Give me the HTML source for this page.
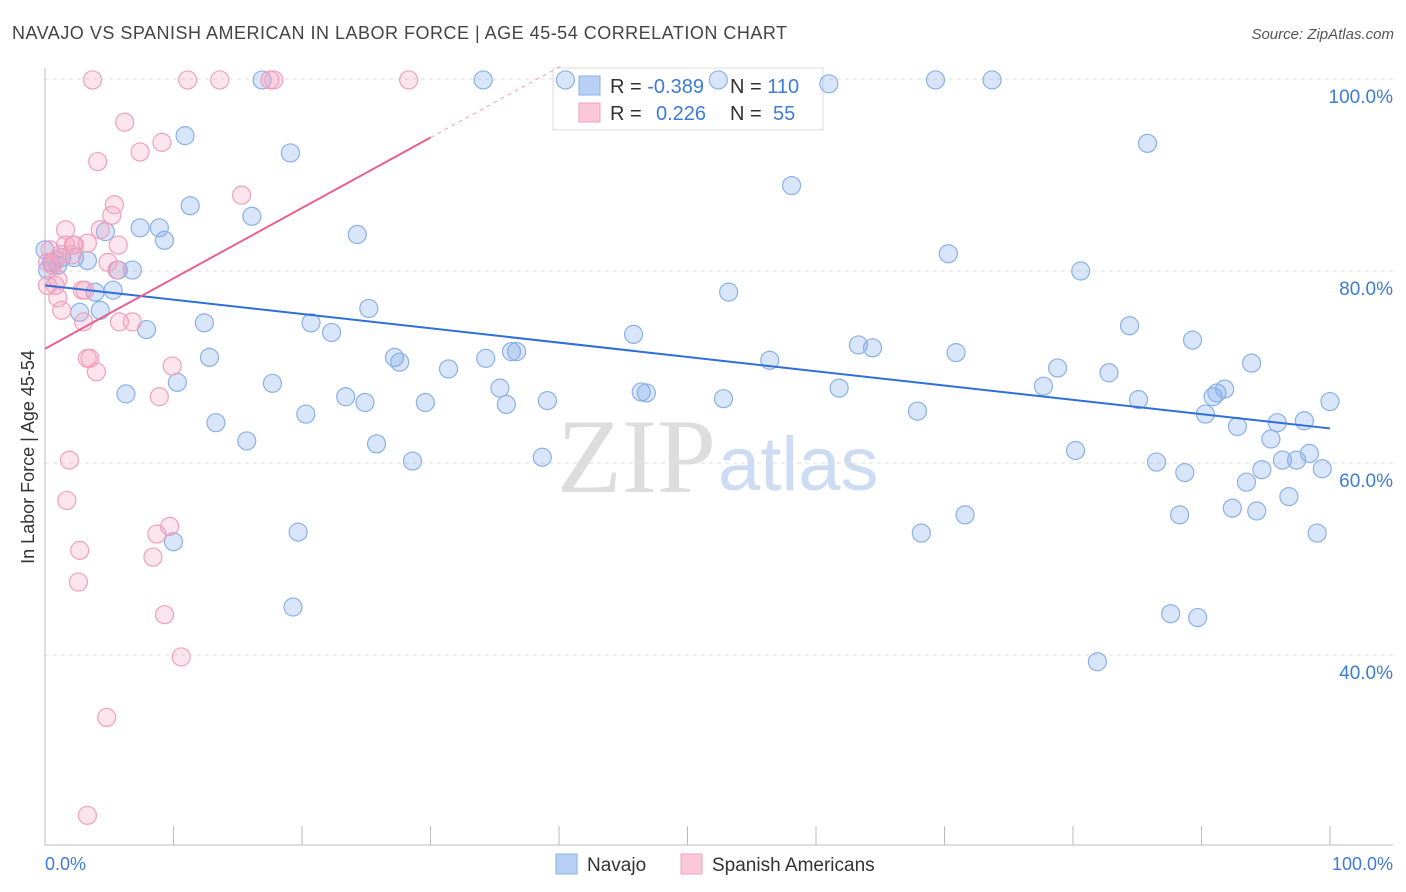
<!DOCTYPE html>
<html><head><meta charset="utf-8">
<style>
body{margin:0;background:#fff;font-family:"Liberation Sans",sans-serif;}
svg{display:block}
</style></head>
<body>
<svg id="chart" width="1406" height="892">
<text x="12" y="39" font-size="18" fill="#444" textLength="775">NAVAJO VS SPANISH AMERICAN IN LABOR FORCE | AGE 45-54 CORRELATION CHART</text>
<text x="1394" y="39" font-size="15" fill="#555" font-style="italic" text-anchor="end">Source: ZipAtlas.com</text>
<text x="716" y="492" font-size="106" fill="#ddd" text-anchor="end" font-family="Liberation Serif,serif">ZIP</text>
<text x="718" y="490" font-size="76" fill="#cddcf2">atlas</text>
<g id="grid"></g>
<g id="axes"></g>
<g>
<rect x="553" y="68" width="270" height="62" fill="#fff" stroke="#ddd"/>
<rect x="579" y="76" width="21" height="19" fill="#b8d0f4" stroke="#8ab0e8"/>
<rect x="579" y="103" width="21" height="19" fill="#fbc8d8" stroke="#f0a0bc"/>
<text x="610" y="93" font-size="20" fill="#333">R = <tspan fill="#3d7bd9">-0.389</tspan></text>
<text x="730" y="93" font-size="20" fill="#333">N = <tspan fill="#3d7bd9">110</tspan></text>
<text x="610" y="120" font-size="20" fill="#333">R = <tspan fill="#3d7bd9" x="656">0.226</tspan></text>
<text x="730" y="120" font-size="20" fill="#333">N = <tspan fill="#3d7bd9" x="773">55</tspan></text>
</g>
<g id="pts"></g>
<g id="trend"></g>
<text transform="translate(34,457) rotate(-90)" font-size="18" fill="#333" text-anchor="middle">In Labor Force | Age 45-54</text>
<g>
<rect x="556" y="854" width="21" height="20" fill="#b8d0f4" stroke="#8ab0e8"/>
<text x="587" y="871" font-size="19" fill="#333">Navajo</text>
<rect x="681" y="854" width="21" height="20" fill="#fbc8d8" stroke="#f0a0bc"/>
<text x="712" y="871" font-size="19" fill="#333">Spanish Americans</text>
</g>
<text x="45" y="870" font-size="18" fill="#3d7bd9">0.0%</text>
<text x="1393" y="870" font-size="18" fill="#3d7bd9" text-anchor="end">100.0%</text>
</svg>
<script>
const yTicks=[100,80,60,40];
const yTickLabels=["100.0%","80.0%","60.0%","40.0%"];
const navX=[0,0.2,0.5,1.0,1.3,2.3,3.3,2.7,3.9,4.3,4.7,5.3,5.7,6.8,6.3,7.4,7.9,8.9,9.3,10.3,10.9,11.3,12.4,12.8,13.3,15.7,16.1,16.9,17.7,19.1,19.7,19.3,20.3,20.7,22.3,23.4,24.3,24.9,25.2,25.8,27.2,27.6,28.6,29.6,31.4,34.1,34.3,35.4,35.9,36.3,36.7,38.7,39.1,40.5,45.8,46.4,46.8,52.4,52.8,53.2,56.4,58.1,61.0,61.8,63.3,64.4,67.9,68.2,69.3,70.3,70.9,71.6,73.7,77.7,78.8,80.2,80.6,81.9,82.8,84.4,85.1,85.8,86.5,87.6,88.3,88.7,89.3,89.7,90.3,90.9,91.2,91.8,92.8,92.4,93.5,93.9,94.3,94.7,95.4,95.9,96.3,96.8,97.4,98.0,98.4,99.0,99.4,100,10.0];
const navY=[82.2,80.1,80.9,80.6,81.4,81.4,81.1,75.7,77.8,75.9,84.1,78.0,80.1,80.1,67.2,84.5,73.9,84.5,83.2,68.4,94.1,86.8,74.6,71.0,64.2,62.3,85.7,99.9,68.3,92.3,52.8,45.0,65.1,74.6,73.6,66.9,83.8,66.3,76.1,62.0,71.0,70.5,60.2,66.3,69.8,99.9,70.9,67.8,66.1,71.6,71.6,60.6,66.5,99.9,73.4,67.4,67.3,99.9,66.7,77.8,70.7,88.9,99.5,67.8,72.3,72.0,65.4,52.7,99.9,81.8,71.5,54.6,99.9,68.0,69.9,61.3,80.0,39.3,69.4,74.3,66.6,93.3,60.1,44.3,54.6,59.0,72.8,43.9,65.1,66.9,67.3,67.7,63.8,55.3,58.0,70.4,55.0,59.3,62.5,64.2,60.3,56.5,60.3,64.4,61.0,52.7,59.4,66.4,51.8];
const spX=[0.4,0.6,0.8,1.0,1.2,1.6,1.6,1.7,1.9,2.2,2.3,2.7,2.6,2.9,3.0,3.3,3.5,3.3,3.7,4.0,4.1,4.3,4.8,4.9,5.2,5.4,5.6,5.7,5.8,6.2,6.8,7.4,8.4,8.7,8.9,9.1,9.3,9.7,9.9,10.6,11.1,13.6,15.3,17.5,17.8,28.3,3.3,0.2,0.8,3.1,1.3,0.2,2.1,1.0];
const spY=[82.2,80.6,78.5,77.2,81.7,84.3,82.7,56.1,60.3,82.7,82.7,50.9,47.6,78.0,74.7,70.9,70.9,82.9,99.9,69.5,91.4,84.3,33.5,80.9,85.8,86.9,80.1,82.7,74.7,95.5,74.7,92.4,50.2,52.6,66.9,93.4,44.2,53.4,70.1,39.8,99.9,99.9,87.9,99.9,99.9,99.9,23.3,78.5,81.1,78.0,75.9,80.9,81.7,79.1];
const navTrend=[78.5,63.6];
const spTrend=[71.9,93.9];
const NS="http://www.w3.org/2000/svg";
const X0=45,X1=1330,Y100=79,PXPER=9.6;
function sx(v){return X0+(X1-X0)*v/100;}
function sy(v){return Y100+(100-v)*PXPER;}
function mk(tag,attrs,parent){const e=document.createElementNS(NS,tag);for(const k in attrs)e.setAttribute(k,attrs[k]);parent.appendChild(e);return e;}
const grid=document.getElementById('grid'),axes=document.getElementById('axes'),pts=document.getElementById('pts'),trend=document.getElementById('trend');
yTicks.forEach((t,i)=>{
 const l=mk('line',{x1:45,x2:1393,y1:sy(t),y2:sy(t),stroke:'#ddd','stroke-dasharray':'4,4'},grid);
 
 
 const tx=mk('text',{x:1393,y:sy(t)+24,'font-size':19,fill:'#3d7bd9','text-anchor':'end'},grid);
 tx.textContent=yTickLabels[i];
 
 
});
let a=mk('line',{x1:45,x2:45,y1:68,y2:845,stroke:'#bbb'},axes);


a=mk('line',{x1:45,x2:1393,y1:845,y2:845,stroke:'#bbb'},axes);


for(let i=0;i<=10;i++){
 const t=mk('line',{x1:sx(i*10),x2:sx(i*10),y1:826,y2:845,stroke:'#bbb'},axes);
 
 
}
navX.forEach((v,i)=>{
 const c=mk('circle',{cx:sx(v),cy:sy(navY[i]),r:9,fill:'rgba(120,165,235,0.28)',stroke:'#8ab0e8','stroke-width':1.2},pts);
 
 
});
spX.forEach((v,i)=>{
 const c=mk('circle',{cx:sx(v),cy:sy(spY[i]),r:9,fill:'rgba(245,160,190,0.28)',stroke:'#f0a0bc','stroke-width':1.2},pts);
 
 
});
let t1=mk('line',{x1:sx(0),y1:sy(navTrend[0]),x2:sx(100),y2:sy(navTrend[1]),stroke:'#2f6fd6','stroke-width':2},trend);


const slope=(spTrend[1]-spTrend[0])/30;
let t2=mk('line',{x1:sx(0),y1:sy(spTrend[0]),x2:sx(30),y2:sy(spTrend[1]),stroke:'#e8608c','stroke-width':2},trend);


const xe=(101.5-spTrend[0])/slope;
let t3=mk('line',{x1:sx(30),y1:sy(spTrend[1]),x2:sx(xe),y2:sy(101.5),stroke:'#f0a0bc','stroke-width':1,'stroke-dasharray':'4,4'},trend);


</script>
</body></html>
